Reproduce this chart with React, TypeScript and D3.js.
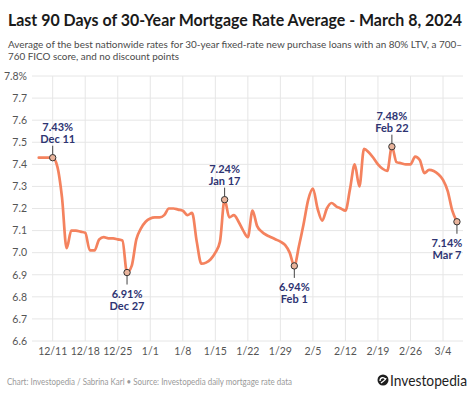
import React from "react";
import * as d3 from "d3";

const startDate = "2023-12-08";
const rates: number[] = [
  // Dec 8 - Dec 31
  7.43, 7.43, 7.43, 7.43, 7.39, 7.25, 7.02, 7.1, 7.1, 7.095, 7.09, 7.01, 7.01, 7.06, 7.07, 7.065, 7.065, 7.06, 7.055, 6.91, 6.94, 7.06, 7.11, 7.14,
  // Jan 1 - Jan 31
  7.155, 7.16, 7.16, 7.17, 7.2, 7.2, 7.195, 7.19, 7.17, 7.18, 7.05, 6.95, 6.955, 6.97, 7.0, 7.05, 7.24, 7.16, 7.17, 7.14, 7.1, 7.07, 7.19, 7.12, 7.095, 7.08, 7.07, 7.06, 7.05, 7.035, 7.0,
  // Feb 1 - Feb 29
  6.94, 7.03, 7.13, 7.24, 7.29, 7.2, 7.145, 7.2, 7.225, 7.21, 7.2, 7.19, 7.29, 7.4, 7.3, 7.47, 7.455, 7.43, 7.4, 7.38, 7.37, 7.48, 7.41, 7.405, 7.4, 7.4, 7.435, 7.42, 7.36,
  // Mar 1 - Mar 7
  7.375, 7.37, 7.355, 7.33, 7.28, 7.19, 7.14,
];

const yTicks = [6.6, 6.7, 6.8, 6.9, 7.0, 7.1, 7.2, 7.3, 7.4, 7.5, 7.6, 7.7, 7.8];
const xTickDates = ["2023-12-11", "2023-12-18", "2023-12-25", "2024-01-01", "2024-01-08", "2024-01-15", "2024-01-22", "2024-01-29", "2024-02-05", "2024-02-12", "2024-02-19", "2024-02-26", "2024-03-04"];

const annDates = ["2023-12-11", "2023-12-27", "2024-01-17", "2024-02-01", "2024-02-22", "2024-03-07"];
const annLabels = ["Dec 11", "Dec 27", "Jan 17", "Feb 1", "Feb 22", "Mar 7"];
const annAbove = [true, false, true, false, true, false];
const annShift = [5, 0, 0, 0, 0, -10];

const title = "Last 90 Days of 30-Year Mortgage Rate Average - March 8, 2024";
const subtitle1 = "Average of the best nationwide rates for 30-year fixed-rate new purchase loans with an 80% LTV, a 700–";
const subtitle2 = "760 FICO score, and no discount points";
const footer = "Chart: Investopedia / Sabrina Karl • Source: Investopedia daily mortgage rate data";

const parse = d3.utcParse("%Y-%m-%d");
const fmtTick = d3.utcFormat("%-m/%-d");

export default function App() {
  const W = 474, H = 397;
  const start = parse(startDate)!;
  const data = rates.map((v, i) => ({ date: d3.utcDay.offset(start, i), v }));

  const x = d3.scaleUtc().domain([parse("2023-12-11")!, parse("2024-03-04")!]).range([52.7, 443]);
  const y = d3.scaleLinear().domain([6.6, 7.8]).range([341, 76]);

  const line = d3.line<{ date: Date; v: number }>()
    .x((d) => x(d.date))
    .y((d) => y(d.v))
    .curve(d3.curveMonotoneX);

  const ff = "Lato, sans-serif";
  const labelColor = "#2e3472";

  return (
    <svg width={W} height={H} style={{ position: "absolute", left: 0, top: 0, background: "#fff" }} fontFamily={ff}>
      <rect width={W} height={H} fill="#fff" />
      <text x={8} y={26} fontSize={16.4} fontWeight={700} fill="#1a1a1a" textLength={454} lengthAdjust="spacingAndGlyphs">{title}</text>
      <text x={8} y={47.5} fontSize={9.8} fill="#4a4a4a" textLength={454} lengthAdjust="spacingAndGlyphs">{subtitle1}</text>
      <text x={8} y={60} fontSize={9.8} fill="#4a4a4a" textLength={171} lengthAdjust="spacingAndGlyphs">{subtitle2}</text>

      {yTicks.map((t) => (
        <g key={"y" + t}>
          <line x1={32} x2={463} y1={y(t)} y2={y(t)} stroke="#e6e6e6" strokeWidth={1} />
          <text x={27} y={y(t) + 3.8} fontSize={10.5} fill="#555" textAnchor="end">
            {t === 7.8 ? "7.8%" : t.toFixed(1)}
          </text>
        </g>
      ))}

      {xTickDates.map((s) => {
        const d = parse(s)!;
        return (
          <g key={s}>
            <line x1={x(d)} x2={x(d)} y1={76} y2={341} stroke="#e6e6e6" strokeWidth={1} />
            <text x={x(d)} y={355} fontSize={10.5} fill="#555" textAnchor="middle">{fmtTick(d)}</text>
          </g>
        );
      })}

      <path d={line(data) || ""} fill="none" stroke="#f4825e" strokeWidth={2.7} strokeLinejoin="round" strokeLinecap="round" />

      {annDates.map((s, i) => {
        const d = parse(s)!;
        const pt = data.find((p) => +p.date === +d)!;
        const px = x(d), py = y(pt.v);
        const above = annAbove[i];
        const tx = px + annShift[i];
        const l2 = above ? py - 12 : py + 12;
        return (
          <g key={s}>
            <line x1={px} x2={px} y1={py} y2={l2} stroke="#444" strokeWidth={1} />
            <circle cx={px} cy={py} r={3.2} fill="#e9b49c" stroke="#333" strokeWidth={1} />
            {above ? (
              <>
                <text x={tx} y={py - 27} fontSize={11} fontWeight={700} fill={labelColor} textAnchor="middle">{pt.v.toFixed(2)}%</text>
                <text x={tx} y={py - 15} fontSize={11} fontWeight={700} fill={labelColor} textAnchor="middle">{annLabels[i]}</text>
              </>
            ) : (
              <>
                <text x={tx} y={py + 25} fontSize={11} fontWeight={700} fill={labelColor} textAnchor="middle">{pt.v.toFixed(2)}%</text>
                <text x={tx} y={py + 37} fontSize={11} fontWeight={700} fill={labelColor} textAnchor="middle">{annLabels[i]}</text>
              </>
            )}
          </g>
        );
      })}

      <text x={7} y={385} fontSize={9.6} fill="#9a9a9a" textLength={285} lengthAdjust="spacingAndGlyphs">{footer}</text>

      <g transform="translate(383,380)">
        <circle r={5.5} fill="#1e1e1e" />
        <path d="M-3,1 C-3,-3 1,-3 2,-1 M-2,3 C0,1 3,0 3,-2" stroke="#fff" strokeWidth={1.3} fill="none" />
      </g>
      <text x={390} y={385.5} fontSize={15} fill="#1e1e1e" textLength={77} lengthAdjust="spacingAndGlyphs">Investopedia</text>
    </svg>
  );
}
